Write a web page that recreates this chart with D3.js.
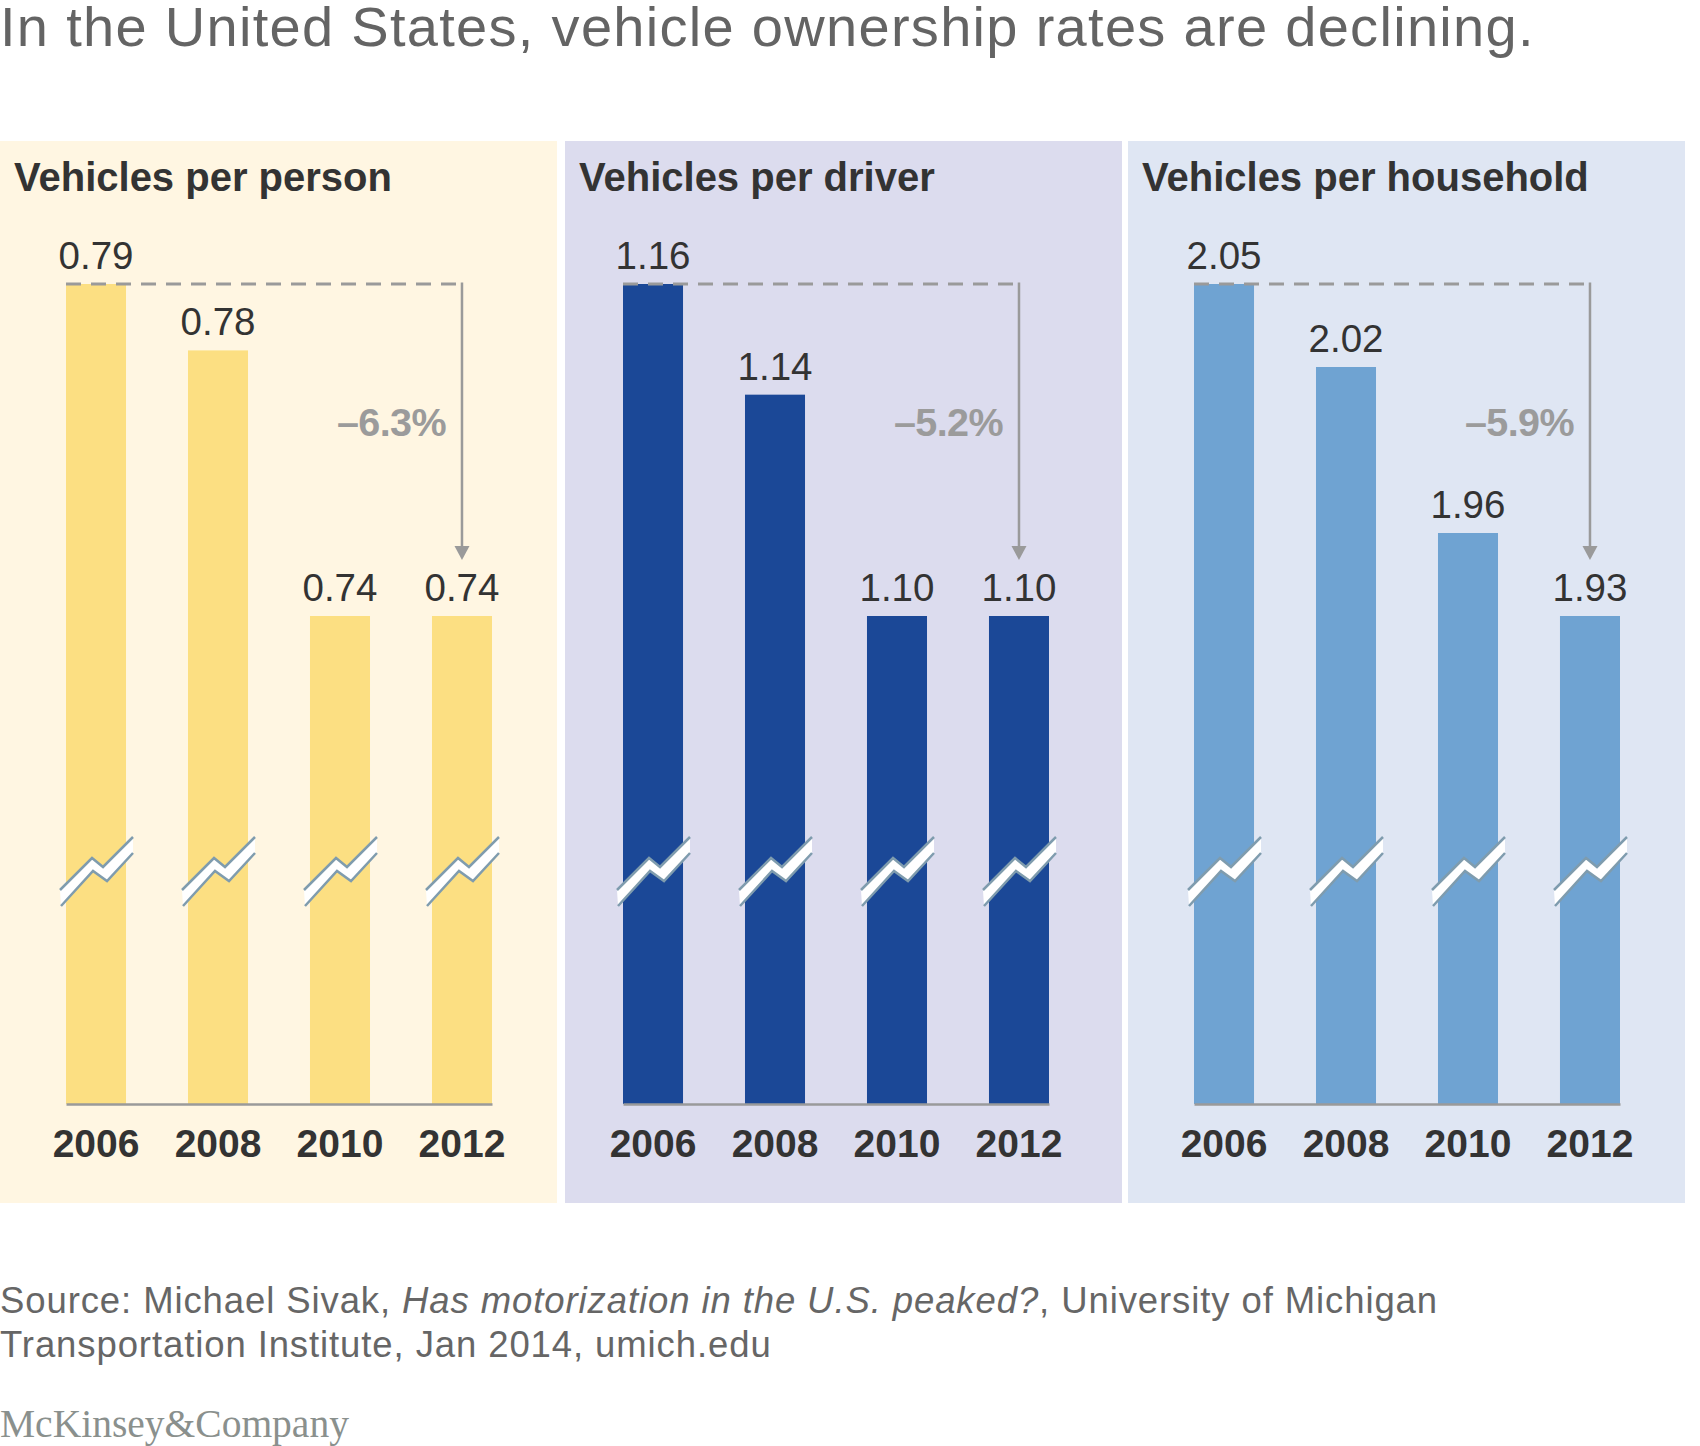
<!DOCTYPE html>
<html>
<head>
<meta charset="utf-8">
<script src="https://cdn.jsdelivr.net/npm/d3@7"></script>
<style>
    body { margin: 0; background: #fff; }
    text { font-family: "Helvetica Neue", Helvetica, Arial, "Liberation Sans", sans-serif; }
</style>
</head>
<body>
<div class="chart__container"></div>
<script>
/*-------------------------------------DATA-------------------------------------*/

const YEARS = ["2006", "2008", "2010", "2012"];
const PER_PERSON = [0.79, 0.78, 0.74, 0.74];
const PER_DRIVER = [1.16, 1.14, 1.10, 1.10];
const PER_HOUSEHOLD = [2.05, 2.02, 1.96, 1.93];
const PANEL_TITLES = ["Vehicles per person", "Vehicles per driver", "Vehicles per household"];
const CHANGE_LABELS = ["\u20136.3%", "\u20135.2%", "\u20135.9%"];

/*-------------------------------------INIT-------------------------------------*/

const CHART__WIDTH = 1700;
const CHART__HEIGHT = 1446;

const PANEL = { top: 141, height: 1062, width: 557 };
const PANEL_X = [0, 565, 1128];
const BARS_X = [66, 623, 1194];
const PANEL_FILL = ["#fff6e2", "#dcdcee", "#dfe6f3"];
const BAR_FILL = ["#fcdf82", "#1b4897", "#6fa3d2"];

const Y_HIGH = 284;     // where the largest value sits
const Y_LOW = 616;      // where the smallest value sits
const BASELINE = 1104;
const BREAK_Y = 872;

const panels = [PER_PERSON, PER_DRIVER, PER_HOUSEHOLD].map((values, i) => ({
    title: PANEL_TITLES[i],
    change: CHANGE_LABELS[i],
    values: values
}));

/*-------------------------------------Graph-------------------------------------*/

const SVG = d3.select(".chart__container").append("svg");
SVG.attr("width", CHART__WIDTH).attr("height", CHART__HEIGHT);

//Title
SVG.append("text")
    .attr("x", 0)
    .attr("y", 46)
    .attr("fill", "#646464")
    .attr("font-size", 56)
    .attr("letter-spacing", 1.3)
    .text("In the United States, vehicle ownership rates are declining.");

panels.forEach((p, i) => {

    const g = SVG.append("g");

    g.append("rect")
        .attr("x", PANEL_X[i])
        .attr("y", PANEL.top)
        .attr("width", PANEL.width)
        .attr("height", PANEL.height)
        .attr("fill", PANEL_FILL[i]);

    g.append("text")
        .attr("x", PANEL_X[i] + 14)
        .attr("y", 191)
        .attr("font-size", 40)
        .attr("font-weight", "bold")
        .attr("fill", "#333")
        .text(p.title);

    const x = d3.scaleBand()
        .domain(YEARS)
        .range([BARS_X[i], BARS_X[i] + 426])
        .paddingInner(0.508)
        .paddingOuter(0);

    const y = d3.scaleLinear()
        .domain(d3.extent(p.values))
        .range([Y_LOW, Y_HIGH]);

    const bw = x.bandwidth();

    //bars
    g.selectAll(".bar")
        .data(p.values)
        .join("rect")
        .attr("class", "bar")
        .attr("x", (d, j) => x(YEARS[j]))
        .attr("y", d => y(d))
        .attr("width", bw)
        .attr("height", d => BASELINE - y(d))
        .attr("fill", BAR_FILL[i]);

    //value labels
    g.selectAll(".val")
        .data(p.values)
        .join("text")
        .attr("class", "val")
        .attr("x", (d, j) => x(YEARS[j]) + bw / 2)
        .attr("y", d => y(d) - 15)
        .attr("text-anchor", "middle")
        .attr("font-size", 38.5)
        .attr("fill", "#333")
        .text(d => d3.format(".2f")(d));

    //axis break marks
    const up = [[-36, 18], [-4, -14], [7, -5], [37, -35]];
    const lo = [[-35, 34], [-3, -1], [11, 9], [37, -19]];
    const line = d3.line();
    const brk = g.selectAll(".brk")
        .data(YEARS)
        .join("g")
        .attr("class", "brk")
        .attr("transform", d => `translate(${x(d) + bw / 2},${BREAK_Y})`);
    brk.append("path")
        .attr("d", line(up.concat(lo.slice().reverse())) + "Z")
        .attr("fill", "#fff");
    brk.append("path").attr("d", line(up)).attr("fill", "none").attr("stroke", "#7f9cae").attr("stroke-width", 2.5);
    brk.append("path").attr("d", line(lo)).attr("fill", "none").attr("stroke", "#7f9cae").attr("stroke-width", 2.5);

    //x axis
    const axis = g.append("g")
        .attr("transform", `translate(0,${BASELINE})`)
        .call(d3.axisBottom(x).tickSize(0).tickSizeOuter(0).tickPadding(25));
    axis.select(".domain").attr("stroke", "#9a9a9a").attr("stroke-width", 2.5);
    axis.selectAll("text")
        .attr("font-size", 39)
        .attr("font-weight", "bold")
        .attr("fill", "#333")
        .style("font-family", "\"Helvetica Neue\", Helvetica, Arial, \"Liberation Sans\", sans-serif");

    //change arrow
    const top = y(d3.max(p.values));
    const arrowX = x(YEARS[YEARS.length - 1]) + bw / 2;
    const tip = y(d3.min(p.values)) - 56;

    g.append("line")
        .attr("x1", x(YEARS[0]))
        .attr("x2", arrowX)
        .attr("y1", top)
        .attr("y2", top)
        .attr("stroke", "#9a9a9a")
        .attr("stroke-width", 3)
        .attr("stroke-dasharray", "15,10");

    g.append("line")
        .attr("x1", arrowX)
        .attr("x2", arrowX)
        .attr("y1", top - 1.5)
        .attr("y2", tip - 12)
        .attr("stroke", "#9a9a9a")
        .attr("stroke-width", 2.5);

    g.append("path")
        .attr("d", `M${arrowX - 7.5},${tip - 14}L${arrowX + 7.5},${tip - 14}L${arrowX},${tip}Z`)
        .attr("fill", "#9a9a9a");

    g.append("text")
        .attr("x", arrowX - 16)
        .attr("y", 436)
        .attr("text-anchor", "end")
        .attr("font-size", 39.5)
        .attr("font-weight", "bold")
        .attr("letter-spacing", -0.6)
        .attr("fill", "#9b9b9b")
        .text(p.change);
});

//Source
const source = SVG.append("text")
    .attr("x", 0)
    .attr("y", 1313)
    .attr("font-size", 36.5)
    .attr("letter-spacing", 0.9)
    .attr("fill", "#666");
source.append("tspan").text("Source: Michael Sivak, ");
source.append("tspan").attr("font-style", "italic").text("Has motorization in the U.S. peaked?");
source.append("tspan").text(", University of Michigan");

SVG.append("text")
    .attr("x", 0)
    .attr("y", 1357)
    .attr("font-size", 36.5)
    .attr("letter-spacing", 0.9)
    .attr("fill", "#666")
    .text("Transportation Institute, Jan 2014, umich.edu");

//Logo
SVG.append("text")
    .attr("x", 0)
    .attr("y", 1437)
    .attr("font-size", 39.5)
    .attr("fill", "#8a908d")
    .style("font-family", "\"Liberation Serif\", \"Times New Roman\", serif")
    .text("McKinsey&Company");
</script>
</body>
</html>
